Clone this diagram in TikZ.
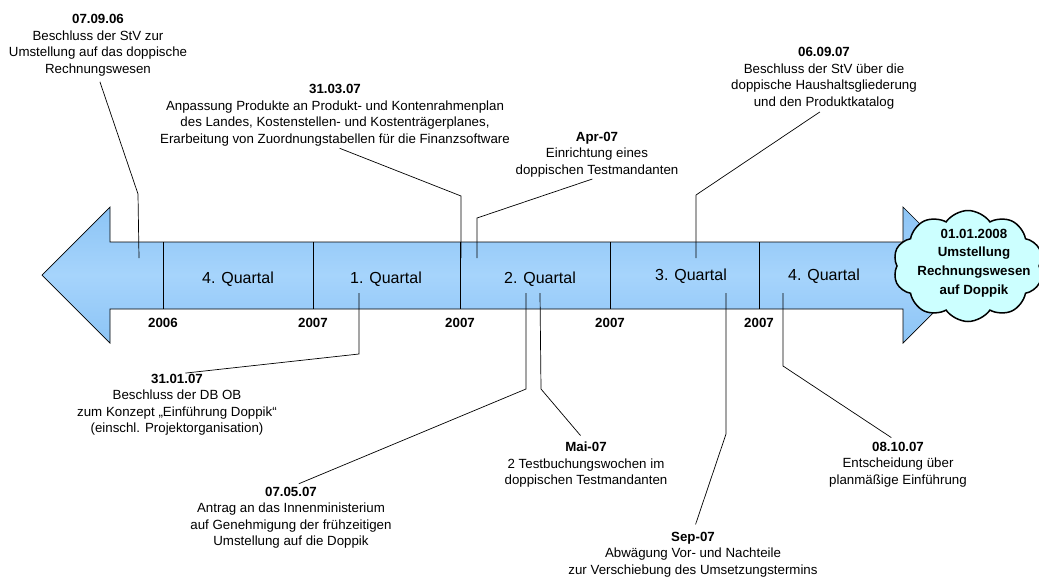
\documentclass[tikz,border=0pt]{standalone}
\usepackage{fontspec}
\setmainfont{Liberation Sans}
\usetikzlibrary{shapes.symbols}

\definecolor{pfeilhell}{RGB}{166,212,252}
\definecolor{pfeildunkel}{RGB}{140,196,245}
\definecolor{wolke}{RGB}{204,255,255}

\tikzset{
	notiz/.style={align=center, inner sep=0pt, font=\fontsize{13.3}{16.5}\selectfont},
	jahr/.style={anchor=base, inner sep=0pt, font=\fontsize{13.3}{16}\selectfont\bfseries},
	quartal/.style={anchor=base, inner sep=0pt, font=\fontsize{16}{19}\selectfont},
	linie/.style={line width=0.7pt},
}

\begin{document}
\begin{tikzpicture}[x=1pt,y=-1pt]
		\useasboundingbox (0,0) rectangle (1039,579);
		
		% Zeitstrahl
		\draw[linie, top color=pfeildunkel, bottom color=pfeildunkel, middle color=pfeilhell]
			(42,275) -- (110,207) -- (110,242) -- (903,242) -- (903,207) -- (971,275)
			-- (903,343) -- (903,309) -- (110,309) -- (110,343) -- cycle;
		
		\foreach \x/\j [count=\i] in {163/2006, 313/2007, 460/2007, 610/2007, 759/2007}{
			\draw[linie] (\x,242) -- (\x,309);
			\node[jahr] (j\i) at (\x,327.5) {\j};
		}
		
		\node[quartal] (q1) at (238,283.4) {4. Quartal};
		\node[quartal] (q2) at (386,283.4) {1. Quartal};
		\node[quartal] (q3) at (540,283.4) {2. Quartal};
		\node[quartal] (q4) at (691,280.7) {3. Quartal};
		\node[quartal] (q5) at (824,280.7) {4. Quartal};
		
		\node[cloud, cloud puffs=10, cloud puff arc=110, cloud ignores aspect, draw, line width=1.5pt,
			fill=wolke, minimum width=150pt, minimum height=111pt, inner sep=0pt] (ziel) at (968,266) {};
		\node[align=center, inner sep=0pt, font=\fontsize{13.3}{18.7}\selectfont\bfseries]
			(zieltext) at (974,263) {01.01.2008\\Umstellung\\Rechnungswesen\\auf Doppik};
		
		% Ereignisse oben
		\node[notiz, anchor=north] (n1) at ( 98, 14.2) {\textbf{07.09.06}\\Beschluss der StV zur\\Umstellung auf das doppische\\Rechnungswesen};
		\node[notiz, anchor=north] (n2) at (335, 84.5) {\textbf{31.03.07}\\Anpassung Produkte an Produkt- und Kontenrahmenplan\\des Landes, Kostenstellen- und Kostenträgerplanes,\\Erarbeitung von Zuordnungstabellen für die Finanzsoftware};
		\node[notiz, anchor=north] (n3) at (597,132.0) {\textbf{Apr-07}\\Einrichtung eines\\doppischen Testmandanten};
		\node[notiz, anchor=north] (n4) at (824, 47.2) {\textbf{06.09.07}\\Beschluss der StV über die\\doppische Haushaltsgliederung\\und den Produktkatalog};
		
		% Ereignisse unten
		\node[notiz, anchor=north] (n5) at (177,374) {\textbf{31.01.07}\\Beschluss der DB OB\\zum Konzept „Einführung Doppik“\\(einschl. Projektorganisation)};
		\node[notiz, anchor=north] (n6) at (291,487) {\textbf{07.05.07}\\Antrag an das Innenministerium\\auf Genehmigung der frühzeitigen\\Umstellung auf die Doppik};
		\node[notiz, anchor=north] (n7) at (586,442) {\textbf{Mai-07}\\2 Testbuchungswochen im\\doppischen Testmandanten};
		\node[notiz, anchor=north] (n8) at (693,532) {\textbf{Sep-07}\\Abwägung Vor- und Nachteile\\zur Verschiebung des Umsetzungstermins};
		\node[notiz, anchor=north] (n9) at (898,442) {\textbf{08.10.07}\\Entscheidung über\\planmäßige Einführung};
		
		\coordinate (k1) at (138,194); \coordinate (e1) at (139,258);
		\coordinate (k2) at (461,196); \coordinate (e2) at (461,258);
		\coordinate (k3) at (477,218); \coordinate (e3) at (477,258);
		\coordinate (k4) at (696,195); \coordinate (e4) at (696,258);
		\coordinate (e5) at (359,293); \coordinate (k5) at (359,354);
		\coordinate (e6) at (526,293); \coordinate (k6) at (526,389);
		\coordinate (e7) at (540,293); \coordinate (k7) at (541,389);
		\coordinate (e8) at (726,293); \coordinate (k8) at (726,434);
		\coordinate (e9) at (783,293); \coordinate (k9) at (783,366);
		
		\draw[linie, shorten <=6pt] (n1.south) -- (k1) -- (e1);
		\draw[linie, shorten <=5pt] (n2.south) -- (k2) -- (e2);
		\draw[linie, shorten <=5pt] (n3.south) -- (k3) -- (e3);
		\draw[linie, shorten <=5pt] (n4.south) -- (k4) -- (e4);
		
		\draw[linie, shorten >=8.5pt] (e5) -- (k5) -- (n5.north);
		\draw[linie, shorten >=8.5pt] (e6) -- (k6) -- (n6.north);
		\draw[linie, shorten >=8.5pt] (e7) -- (k7) -- (n7.north);
		\draw[linie, shorten >=8pt] (e8) -- (k8) -- (n8.north);
		\draw[linie, shorten >=8pt] (e9) -- (k9) -- (n9.north);
		
	\end{tikzpicture}
\end{document}
